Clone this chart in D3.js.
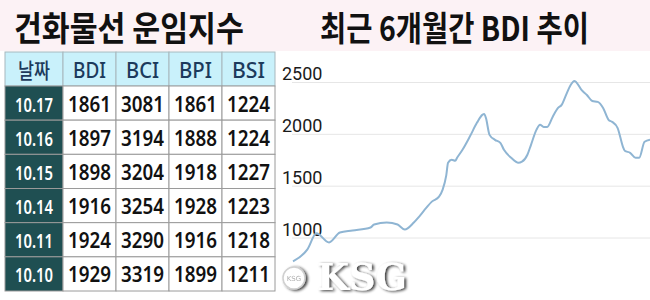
<!DOCTYPE html>
<html><head><meta charset="utf-8">
<script src="https://cdn.jsdelivr.net/npm/d3@7"></script>
<style>html,body{margin:0;padding:0;background:#fff;}svg{display:block;}</style>
</head><body>
<svg id="c" width="650" height="300"></svg>
<script>
// ---- data ----
const titleLeft = "건화물선 운임지수";
const titleRight = "최근 6개월간 BDI 추이";
const headers = ["날짜", "BDI", "BCI", "BPI", "BSI"];
const dates = ["10.17", "10.16", "10.15", "10.14", "10.11", "10.10"];
const bdi = [1861, 1897, 1898, 1916, 1924, 1929];
const bci = [3081, 3194, 3204, 3254, 3290, 3319];
const bpi = [1861, 1888, 1918, 1928, 1916, 1899];
const bsi = [1224, 1224, 1227, 1223, 1218, 1211];
const yTicks = [1000, 1500, 2000, 2500];
const lineDates = ["2019-04-01","2019-04-09","2019-04-14","2019-04-21","2019-04-27","2019-05-04","2019-05-14","2019-05-16","2019-05-23","2019-05-29","2019-06-02","2019-06-07","2019-06-10","2019-06-14","2019-06-17","2019-06-21","2019-06-23","2019-06-25","2019-06-26","2019-06-28","2019-06-30","2019-07-01","2019-07-04","2019-07-08","2019-07-12","2019-07-15","2019-07-16","2019-07-17","2019-07-19","2019-07-22","2019-07-25","2019-07-27","2019-07-31","2019-08-04","2019-08-06","2019-08-09","2019-08-11","2019-08-14","2019-08-16","2019-08-18","2019-08-20","2019-08-23","2019-08-26","2019-08-28","2019-08-30","2019-09-02","2019-09-04","2019-09-05","2019-09-08","2019-09-11","2019-09-14","2019-09-17","2019-09-20","2019-09-23","2019-09-25","2019-09-28","2019-10-01","2019-10-02","2019-10-05","2019-10-08","2019-10-10","2019-10-13","2019-10-16"];
const lineValues = [769,885,1040,952,1048,1067,1096,1125,1144,1125,1077,1144,1202,1288,1346,1394,1462,1600,1721,1750,1740,1769,1846,1971,2106,2183,2192,2154,1990,1942,1913,1846,1769,1721,1731,1798,1894,2038,2087,2067,2067,2163,2250,2279,2356,2471,2510,2500,2423,2375,2317,2308,2250,2135,2115,2058,1875,1837,1817,1769,1769,1923,1942];

// ---- helpers ----
function fitText(t, cx, baseline, targetW, anchor){
  const n = t.node().getComputedTextLength();
  const s = targetW / n;
  t.attr("text-anchor", anchor).attr("x",0).attr("y",0)
   .attr("transform", `translate(${cx},${baseline}) scale(${s},1)`);
}

// ---- drawing ----
const svg = d3.select("#c");
svg.append("rect").attr("x",0).attr("y",0).attr("width",650).attr("height",300).attr("fill","#ffffff");
svg.append("rect").attr("x",0).attr("y",0).attr("width",650).attr("height",51).attr("fill","#fcf2f5");

const titleFont = "'Noto Sans CJK KR', sans-serif";
const t1 = svg.append("text").text(titleLeft).attr("font-family",titleFont).attr("font-weight",700)
  .attr("font-size",34).attr("fill","#111");
fitText(t1, 14, 41, 230, "start");
const t2 = svg.append("text").text(titleRight).attr("font-family",titleFont).attr("font-weight",700)
  .attr("font-size",34).attr("fill","#111");
fitText(t2, 320, 41, 269, "start");

// ---- table ----
const colEdges = [5, 63, 116, 169, 222, 275];
const headTop = 52, headBottom = 86, tableBottom = 291;
const rowY = d3.scaleBand().domain(dates).range([headBottom, tableBottom]);
const cols = [dates, bdi, bci, bpi, bsi];
const tbl = svg.append("g");

headers.forEach((h,i)=>{
  tbl.append("rect").attr("x",colEdges[i]).attr("y",headTop)
    .attr("width",colEdges[i+1]-colEdges[i]).attr("height",headBottom-headTop)
    .attr("fill","#c9f1fb").attr("stroke","#a7b7bd").attr("stroke-width",1);
  const cx = (colEdges[i]+colEdges[i+1])/2;
  const t = tbl.append("text").text(h)
    .attr("font-family", i===0 ? titleFont : "'Noto Sans', sans-serif")
    .attr("font-weight",500).attr("font-size",21).attr("fill","#1c3a5c");
  fitText(t, cx, headTop+26, i===0 ? 32 : 33, "middle");
});

dates.forEach((d,r)=>{
  const y0 = rowY(d), h = rowY.bandwidth();
  cols.forEach((col,i)=>{
    tbl.append("rect").attr("x",colEdges[i]).attr("y",y0)
      .attr("width",colEdges[i+1]-colEdges[i]).attr("height",h)
      .attr("fill", i===0 ? "#1f4f52" : "#ffffff")
      .attr("stroke","#9a9a9a").attr("stroke-width",1);
    const cx = (colEdges[i]+colEdges[i+1])/2;
    const t = tbl.append("text").text(col[r])
      .attr("font-family","'Noto Sans', sans-serif")
      .attr("font-weight", 600)
      .attr("font-size", i===0 ? 20 : 22)
      .attr("fill", i===0 ? "#ffffff" : "#111111");
    fitText(t, cx, y0+h/2+8.5, i===0 ? 38 : 43, "middle");
  });
});

// ---- line chart ----
const parse = d3.timeParse("%Y-%m-%d");
const pts = lineDates.map((d,i)=>({d:parse(d), v:lineValues[i]}));
const x = d3.scaleTime().domain([parse("2019-04-01"), parse("2019-10-16")]).range([293, 650]);
const y = d3.scaleLinear().domain([1000, 2500]).range([237.5, 82]);

const axis = d3.axisRight(y).tickValues(yTicks).tickSize(358).tickFormat(d3.format("d"));
const ag = svg.append("g").attr("transform","translate(292,0)").call(axis);
ag.select(".domain").remove();
ag.selectAll(".tick line").attr("stroke","#e6e6e6").attr("stroke-width",1);
ag.selectAll(".tick text").attr("x",-10).attr("dy","-0.12em")
  .attr("text-anchor","start").attr("font-family","Roboto, sans-serif")
  .attr("font-size",18).attr("fill","#1a1a1a");

const line = d3.line().x(p=>x(p.d)).y(p=>y(p.v)).curve(d3.curveMonotoneX);
svg.append("path").datum(pts).attr("d",line)
  .attr("fill","none").attr("stroke","#8fb5d3").attr("stroke-width",2)
  .attr("stroke-linejoin","round");

// ---- watermark ----
const defs = svg.append("defs");
const f = defs.append("filter").attr("id","sh").attr("x","-20%").attr("y","-30%").attr("width","150%").attr("height","160%");
f.append("feGaussianBlur").attr("in","SourceAlpha").attr("stdDeviation",1.8).attr("result","b");
f.append("feOffset").attr("in","b").attr("dx",2).attr("dy",1).attr("result","o");
f.append("feComponentTransfer").attr("in","o").attr("result","o2")
  .append("feFuncA").attr("type","linear").attr("slope",0.8);
const fm = f.append("feMerge");
fm.append("feMergeNode").attr("in","o2");
fm.append("feMergeNode").attr("in","SourceGraphic");

const wm = svg.append("g").attr("filter","url(#sh)");
wm.append("circle").attr("cx",294).attr("cy",278).attr("r",11)
  .attr("fill","#ffffff").attr("stroke","#d0d0d0").attr("stroke-width",1.5);
wm.append("text").text("KSG").attr("x",294).attr("y",281).attr("text-anchor","middle")
  .attr("font-family","'DejaVu Sans', sans-serif").attr("font-size",7).attr("fill","#b0b0b0");
const ksg = wm.append("text").text("KSG")
  .attr("font-family","'DejaVu Serif', serif").attr("font-weight",700)
  .attr("font-size",38).attr("fill","#ffffff");
fitText(ksg, 317, 290, 90, "start");
</script>
</body></html>
